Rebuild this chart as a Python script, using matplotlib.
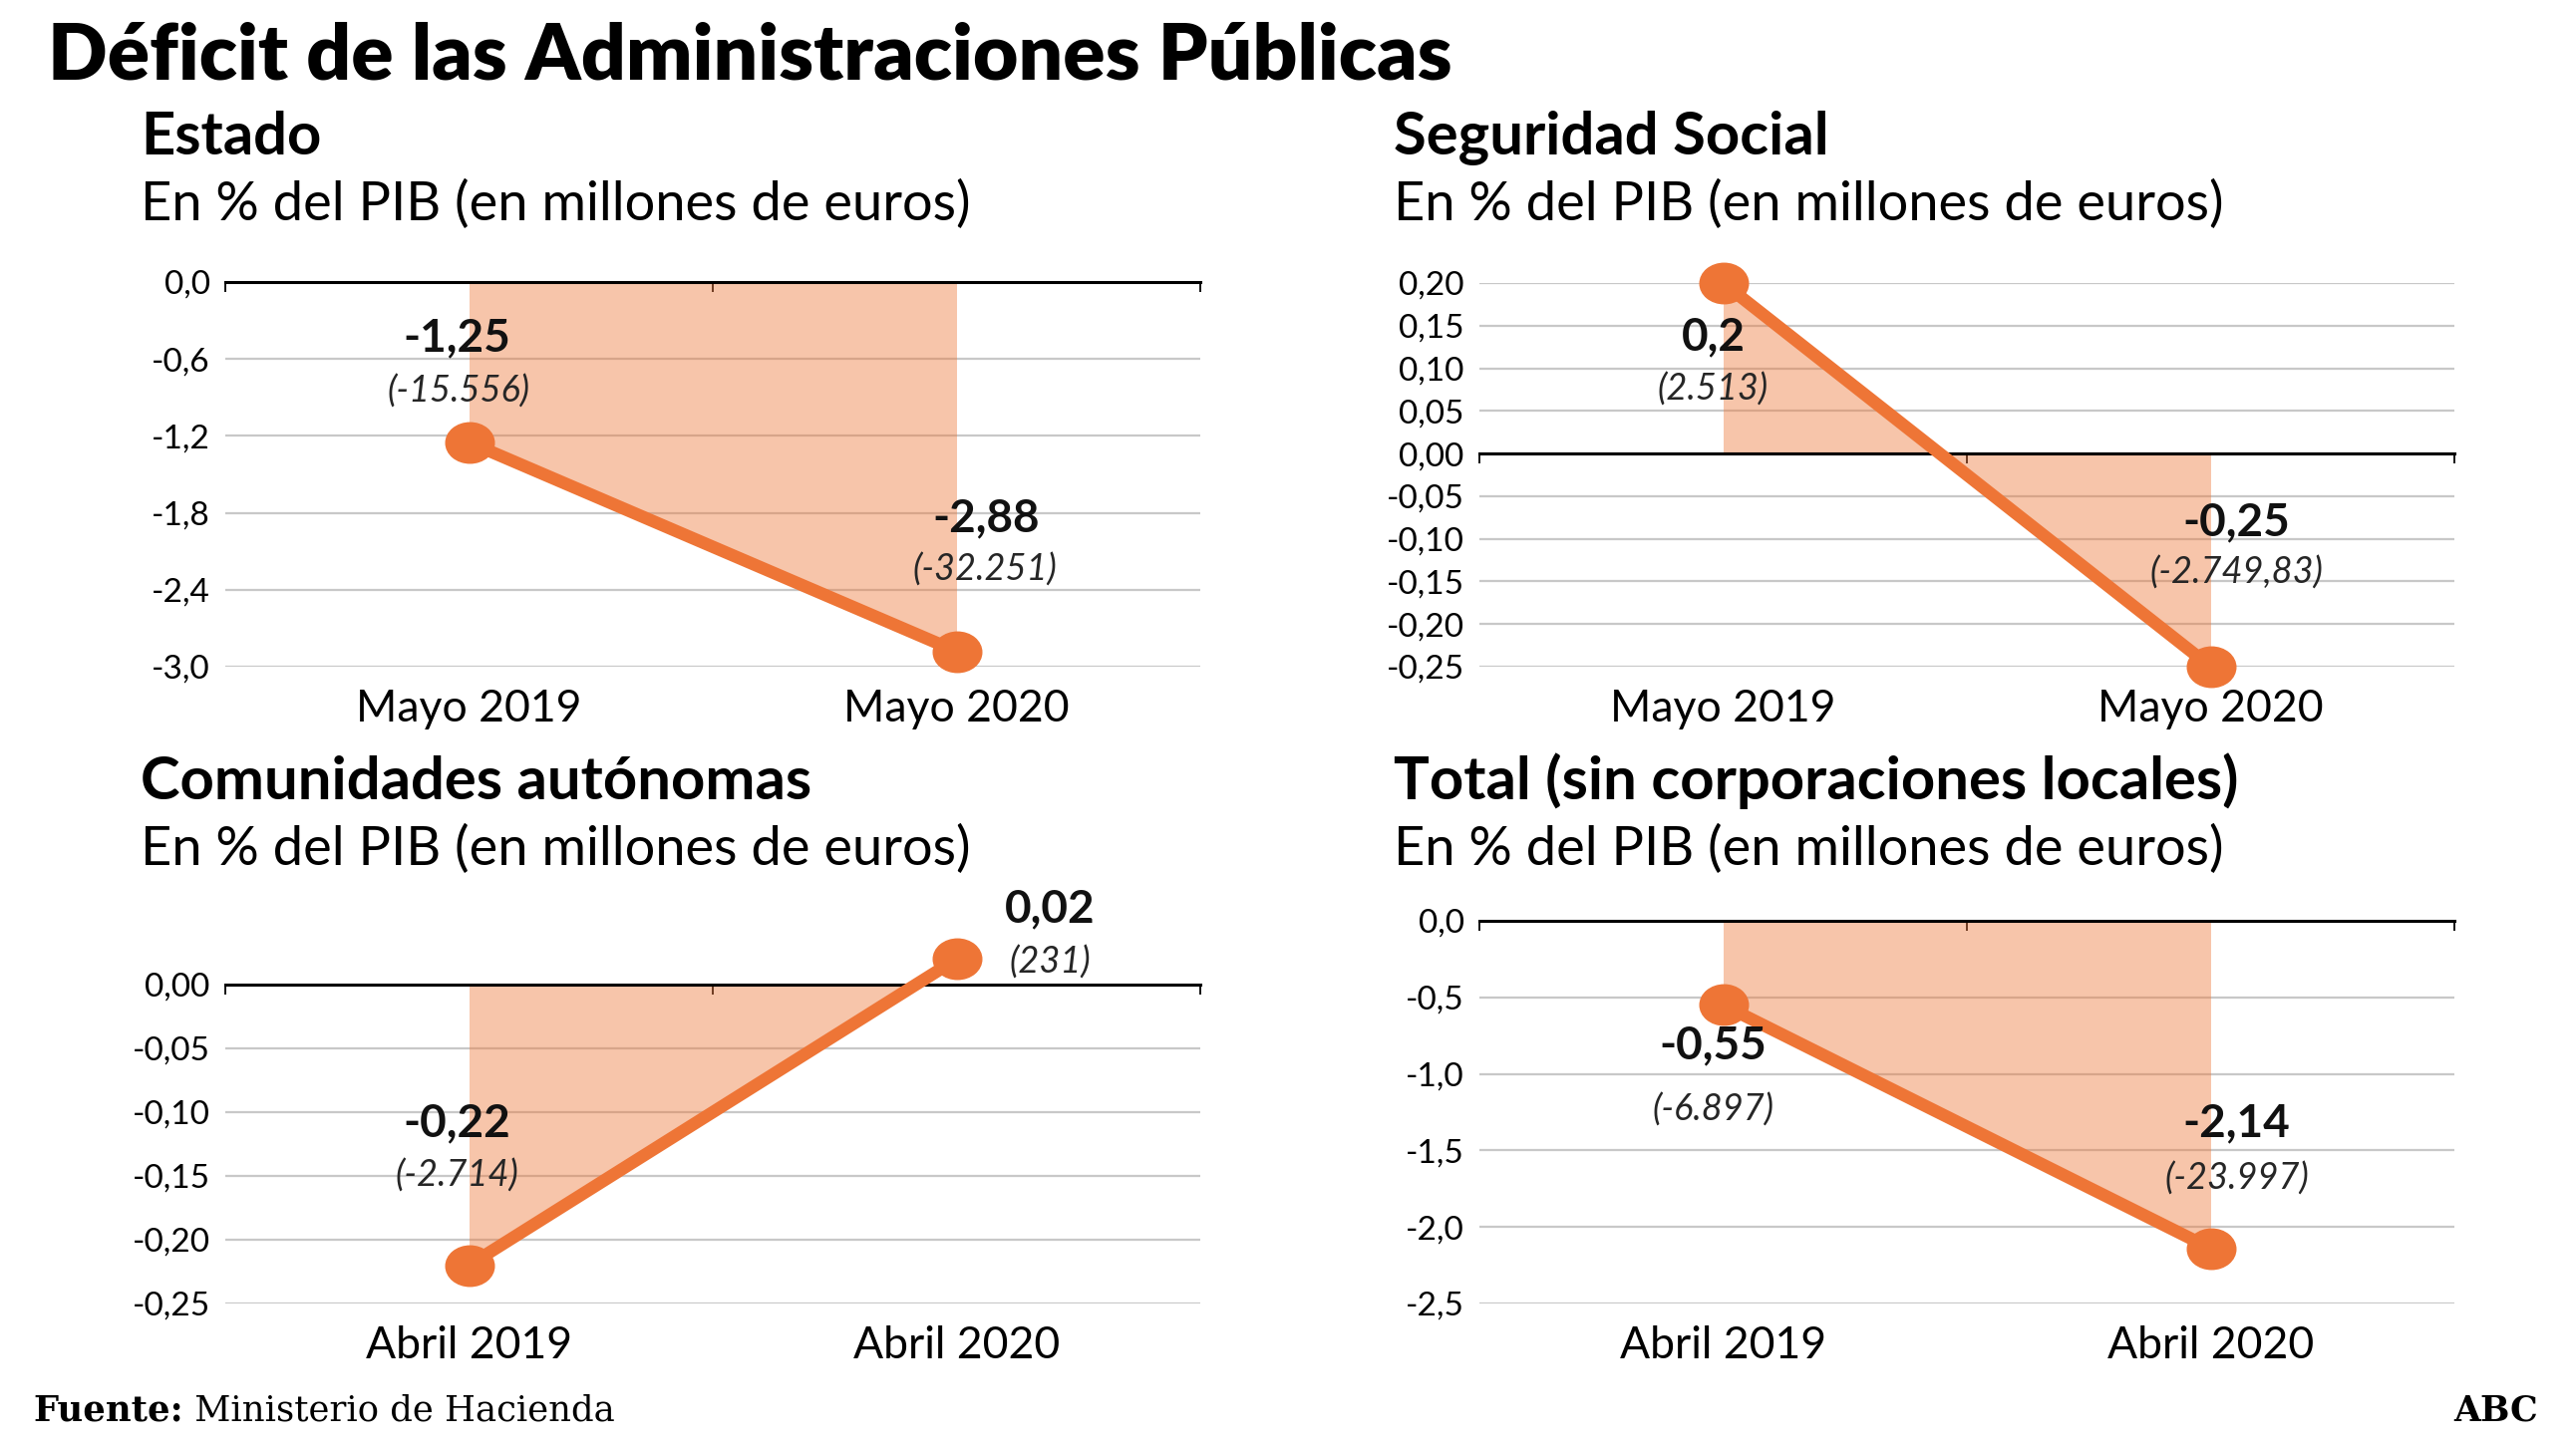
import matplotlib
matplotlib.use('Agg')
import matplotlib.pyplot as plt
from matplotlib.path import Path
from matplotlib.transforms import Affine2D
from matplotlib.ticker import FuncFormatter

# datos (% del PIB y millones de euros)
periodos_mayo = ['Mayo 2019', 'Mayo 2020']
periodos_abril = ['Abril 2019', 'Abril 2020']

estado = [-1.25, -2.88]
estado_txt = ['-1,25', '-2,88']
estado_mill = ['(-15.556)', '(-32.251)']
estado_ticks = [0.0, -0.6, -1.2, -1.8, -2.4, -3.0]

seguridad = [0.20, -0.25]
seguridad_txt = ['0,2', '-0,25']
seguridad_mill = ['(2.513)', '(-2.749,83)']
seguridad_ticks = [0.20, 0.15, 0.10, 0.05, 0.00, -0.05, -0.10, -0.15, -0.20, -0.25]

ccaa = [-0.22, 0.02]
ccaa_txt = ['-0,22', '0,02']
ccaa_mill = ['(-2.714)', '(231)']
ccaa_ticks = [0.00, -0.05, -0.10, -0.15, -0.20, -0.25]

total = [-0.55, -2.14]
total_txt = ['-0,55', '-2,14']
total_mill = ['(-6.897)', '(-23.997)']
total_ticks = [0.0, -0.5, -1.0, -1.5, -2.0, -2.5]

ORANGE = '#EE7536'
plt.rcParams['font.family'] = ['Lato', 'DejaVu Sans']

W, H = 2584, 1455
fig = plt.figure(figsize=(W / 100, H / 100), dpi=100)

# marker un poco ovalado, como en el original
oval = Path.unit_circle().transformed(Affine2D().scale(1.2, 1.0))


def fmt(dec):
    def f(v, pos):
        if abs(v) < 1e-9:
            v = 0.0
        return f'{v:.{dec}f}'.replace('.', ',')
    return FuncFormatter(f)


def panel(rect, vals, txt, mill, periodos, ticks, dec, offs):
    ax = fig.add_axes(rect)
    x = list(range(len(vals)))
    ax.set_xlim(-0.5, 1.5)
    ax.set_ylim(min(ticks), max(ticks))
    ax.set_yticks(ticks)
    ax.yaxis.set_major_formatter(fmt(dec))
    ax.grid(axis='y', color='#C8C8C8', lw=1.6)
    ax.set_axisbelow(True)
    for s in ['left', 'right', 'bottom']:
        ax.spines[s].set_visible(False)
    ax.spines['top'].set_position(('data', 0))
    ax.spines['top'].set_linewidth(2.2)
    ax.set_xticks(x)
    ax.set_xticklabels(periodos)
    ax.set_xticks([-0.5, 0.5, 1.5], minor=True)
    ax.tick_params(axis='x', which='major', length=0, pad=16, labelsize=32,
                   top=False, bottom=True)
    ax.tick_params(axis='x', which='minor', top=True, bottom=False,
                   direction='in', length=7, width=1.3)
    ax.tick_params(axis='y', length=0, pad=11, labelsize=24)

    ax.fill_between(x, vals, 0, color=ORANGE, alpha=0.42, lw=0,
                    interpolate=True, zorder=1)
    ax.plot(x, vals, color=ORANGE, lw=9, solid_capstyle='round', zorder=3,
            clip_on=False)
    ax.plot(x, vals, ls='none', marker=oval, ms=35, color=ORANGE, zorder=4,
            clip_on=False)

    for xi, v, t, m, (bx, by, ix, iy) in zip(x, vals, txt, mill, offs):
        ax.annotate(t, (xi, v), xytext=(bx, by), textcoords='offset pixels',
                    ha='center', va='center', fontsize=33, fontweight='bold',
                    color='#111111', annotation_clip=False)
        ax.annotate(m, (xi, v), xytext=(ix, iy), textcoords='offset pixels',
                    ha='center', va='center', fontsize=26, style='italic',
                    color='#262626', annotation_clip=False)
    return ax


L1, L2 = 226 / W, 1484 / W
AW = 978 / W

panel([L1, 1 - 669 / H, AW, 386 / H], estado, estado_txt, estado_mill,
      periodos_mayo, estado_ticks, 1,
      [(-12, 104, -10, 51), (30, 133, 28, 82)])
panel([L2, 1 - 669 / H, AW, 385 / H], seguridad, seguridad_txt, seguridad_mill,
      periodos_mayo, seguridad_ticks, 2,
      [(-10, -54, -10, -107), (26, 145, 26, 94)])
panel([L1, 1 - 1308 / H, AW, 320 / H], ccaa, ccaa_txt, ccaa_mill,
      periodos_abril, ccaa_ticks, 2,
      [(-12, 142, -12, 90), (94, 50, 94, -3)])
panel([L2, 1 - 1308 / H, AW, 384 / H], total, total_txt, total_mill,
      periodos_abril, total_ticks, 1,
      [(-10, -41, -10, -105), (26, 125, 26, 70)])

# titulos
fig.text(48 / W, 1 - 80 / H, 'Déficit de las Administraciones Públicas',
         fontsize=56.5, fontweight='heavy', va='baseline')

sub = 'En % del PIB (en millones de euros)'
for tx, ty, t in [(141, 155, 'Estado'), (1398, 155, 'Seguridad Social'),
                  (141, 802, 'Comunidades autónomas'),
                  (1398, 802, 'Total (sin corporaciones locales)')]:
    fig.text(tx / W, 1 - ty / H, t, fontsize=43, fontweight='bold', va='baseline')
    fig.text(tx / W, 1 - (ty + 66) / H, sub, fontsize=39, va='baseline')

# pie
f1 = fig.text(33 / W, 1 - 1425 / H, 'Fuente:', family='DejaVu Serif',
              fontsize=25.5, fontweight='bold', va='baseline')
fig.canvas.draw()
bb = f1.get_window_extent()
fig.text(bb.x1 / W, 1 - 1425 / H, ' Ministerio de Hacienda', family='DejaVu Serif',
         fontsize=25.5, va='baseline')
fig.text(2546 / W, 1 - 1425 / H, 'ABC', family='DejaVu Serif', fontsize=25,
         fontweight='bold', ha='right', va='baseline')

fig.savefig('out.png', dpi=100)
